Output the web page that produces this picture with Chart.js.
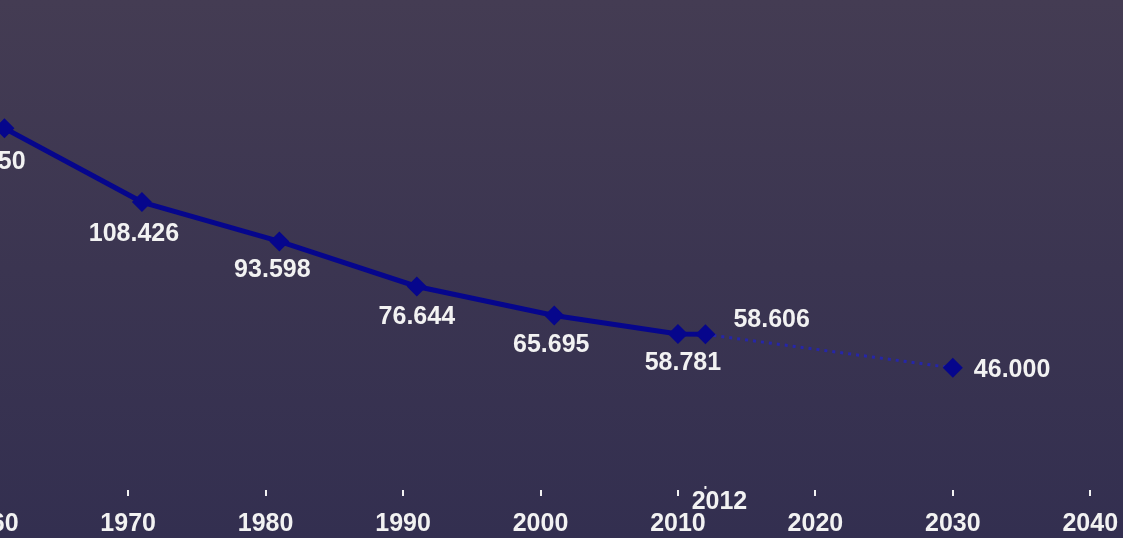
<!DOCTYPE html>
<html>
<head>
<meta charset="utf-8">
<script src="https://cdn.jsdelivr.net/npm/chart.js@4/dist/chart.umd.min.js"></script>
<style>
  html, body { margin: 0; padding: 0; overflow: hidden; }
  body {
    width: 1123px; height: 538px;
    background: linear-gradient(180deg, #443c53 0%, #3b3551 50%, #332f50 100%);
    position: relative;
  }
  #wrap { position: absolute; left: -80px; top: 0; width: 1240px; height: 538px; }
</style>
</head>
<body>
<div id="wrap"><canvas id="chart"></canvas></div>
<script>
// values
const years = [1961, 1971, 1981, 1991, 2001, 2010, 2012, 2030]
const births = [136250, 108426, 93598, 76644, 65695, 58781, 58606, 46000]
const tickYears = [1960, 1970, 1980, 1990, 2000, 2010, 2020, 2030, 2040]
const extraTick = 2012
const forecastFrom = 6 // index where the dotted projection starts

const lineColor = '#06068c'
const fontFamily = "'Liberation Sans Narrow', 'Liberation Sans', sans-serif"
const textFont = "bold 25px " + fontFamily

// offset of each value label from its point (centre unless left aligned)
const labelOffsets = [
  { dx: -24, dy: 34, align: 'center' },
  { dx: -8, dy: 32, align: 'center' },
  { dx: -7, dy: 29, align: 'center' },
  { dx: 0, dy: 31, align: 'center' },
  { dx: -3, dy: 30, align: 'center' },
  { dx: 5, dy: 29, align: 'center' },
  { dx: 28, dy: -14, align: 'left' },
  { dx: 21, dy: 2, align: 'left' },
]

const fmt = v => v.toLocaleString('de-DE')

const valueLabels = {
  id: 'valueLabels',
  afterDatasetsDraw(chart) {
    const ctx = chart.ctx
    const meta = chart.getDatasetMeta(0)
    ctx.save()
    ctx.font = textFont
    ctx.fillStyle = '#f2f2f2'
    ctx.textBaseline = 'middle'
    meta.data.forEach((pt, i) => {
      const o = labelOffsets[i]
      ctx.textAlign = o.align
      ctx.fillText(fmt(births[i]), pt.x + o.dx, pt.y + o.dy)
    })

    // the extra 2012 mark under the axis
    const xs = chart.scales.x
    const px = xs.getPixelForValue(extraTick)
    const bottom = chart.chartArea.bottom
    ctx.fillRect(px - 1, bottom - 4, 2, 3)
    ctx.textAlign = 'center'
    ctx.fillText(String(extraTick), px + 14, bottom + 12)
    ctx.restore()
  }
}

new Chart(document.getElementById('chart'), {
  type: 'line',
  data: {
    datasets: [{
      data: years.map((y, i) => ({ x: y, y: births[i] })),
      borderColor: lineColor,
      backgroundColor: lineColor,
      borderWidth: 5,
      pointStyle: 'rectRot',
      pointRadius: 10,
      pointBorderWidth: 0,
      tension: 0,
      clip: false,
      segment: {
        borderDash: c => c.p0DataIndex >= forecastFrom ? [3, 5] : undefined,
        borderWidth: c => c.p0DataIndex >= forecastFrom ? 3 : 5,
        borderColor: c => c.p0DataIndex >= forecastFrom ? '#2626a8' : lineColor,
      }
    }]
  },
  options: {
    responsive: true,
    maintainAspectRatio: false,
    animation: false,
    layout: { autoPadding: false, padding: { top: 12, left: 2, right: 1, bottom: 0 } },
    plugins: { legend: { display: false }, tooltip: { enabled: false } },
    scales: {
      x: {
        type: 'linear',
        min: 1955,
        max: 2045,
        afterBuildTicks: axis => { axis.ticks = tickYears.map(v => ({ value: v })) },
        afterFit: s => { s.paddingLeft = 0; s.paddingRight = 0; s.height = 48 },
        border: { display: false },
        grid: { drawOnChartArea: false, color: '#f2f2f2', tickLength: 6, lineWidth: 2 },
        ticks: {
          color: '#f2f2f2',
          font: { family: fontFamily, size: 25, weight: 'bold' },
          padding: 13,
          maxRotation: 0,
          autoSkip: false,
          callback: v => String(v),
        },
      },
      y: {
        display: false,
        min: 0,
        max: 180000,
      }
    }
  },
  plugins: [valueLabels]
})
</script>
</body>
</html>
